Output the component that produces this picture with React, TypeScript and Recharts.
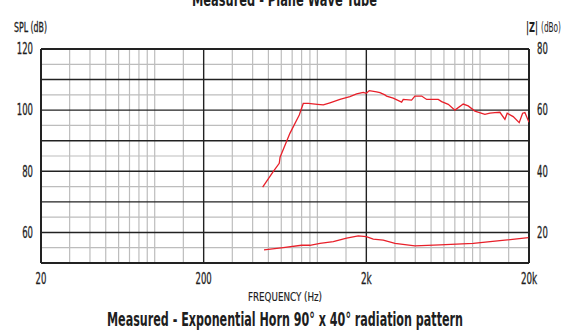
import { LineChart, Line, XAxis, YAxis, ReferenceLine } from 'recharts';

const FONT = "'DejaVu Sans Condensed', 'Liberation Sans Narrow', 'Roboto', sans-serif";
const RED = '#e8202a';
const INK = '#1e1e1e';

// SPL curve (left axis, dB)
const splFreqs = [
  461, 535, 583, 590, 678, 774, 819, 880, 1000, 1088, 1195, 1377, 1585, 1743, 1915, 2000,
  2085, 2313, 2425, 2601, 2664, 2925, 3296, 3373, 3794, 3978, 4377, 4697, 5535, 5808, 6378,
  7009, 7882, 8455, 9302, 10710, 11500, 12340, 13250, 14220, 14690, 15990, 17410, 18270,
  18870, 20000,
];
const splLevels = [
  74.8, 79.9, 82.6, 84.6, 92.4, 98.4, 102.2, 102.2, 101.9, 101.7, 102.4, 103.5, 104.4, 105.3,
  105.8, 105.5, 106.4, 106.0, 105.7, 105.0, 104.6, 103.9, 102.6, 103.5, 103.3, 104.6, 104.6,
  103.5, 103.5, 102.8, 101.9, 100.0, 102.0, 101.4, 99.7, 98.6, 99.0, 99.2, 99.3, 97.0, 99.0,
  97.9, 95.9, 99.0, 99.2, 96.0,
];

// impedance curve (right axis, dBo)
const impFreqs = [470, 617, 800, 900, 1038, 1253, 1513, 1784, 2000, 2206, 2541, 3000, 3978, 5668, 9080, 13250, 19800];
const impLevels = [14.3, 15.0, 15.8, 15.8, 16.4, 17.0, 18.1, 18.9, 18.6, 17.8, 17.5, 16.4, 15.6, 15.9, 16.4, 17.3, 18.3];

const freqTicks = [20, 200, 2000, 20000];
const freqLabels = ['20', '200', '2k', '20k'];
const splTicks = [60, 80, 100, 120];
const impTicks = [20, 40, 60, 80];

const minorFreqs = [
  30, 40, 50, 60, 70, 80, 90, 100, 150,
  300, 400, 500, 600, 700, 800, 900, 1000, 1500,
  3000, 4000, 5000, 6000, 7000, 8000, 9000, 10000, 15000,
];
const majorLevels = [60, 70, 80, 90, 100, 110];
const minorLevels = [55, 65, 75, 85, 95, 105, 115];

const splData = splFreqs.map((f, i) => ({ f, spl: splLevels[i] }));
const impData = impFreqs.map((f, i) => ({ f, z: impLevels[i] }));

// narrow tick text: squeeze each label to ~5.4px per character
function NarrowTick(props: any) {
  const { x, y, payload, textAnchor, verticalAnchor, fmt } = props;
  const label = fmt ? fmt(payload.value) : String(payload.value);
  const dy = verticalAnchor === 'start' ? '0.71em' : '0.355em';
  return (
    <text
      x={x}
      y={y}
      dy={dy}
      textAnchor={textAnchor}
      fontSize={15}
      fontFamily={FONT}
      fill={INK}
      stroke={INK}
      strokeWidth={0.3}
      textLength={label.length * 5.4}
      lengthAdjust="spacingAndGlyphs"
    >
      {label}
    </text>
  );
}

const fmtFreq = (v: number) => freqLabels[freqTicks.indexOf(v)];

export default function App() {
  return (
    <div style={{ position: 'absolute', left: 0, top: 0, width: 562, height: 332, background: '#fff' }}>
      <LineChart width={562} height={332} margin={{ top: 49, right: 0, bottom: 39, left: 0 }}>
        <XAxis
          dataKey="f"
          type="number"
          scale="log"
          domain={[20, 20000]}
          ticks={freqTicks}
          allowDataOverflow
          axisLine={false}
          tickLine={false}
          tickMargin={4}
          tick={<NarrowTick fmt={fmtFreq} />}
          height={30}
        />
        <YAxis
          yAxisId="spl"
          domain={[50, 120]}
          ticks={splTicks}
          allowDataOverflow
          axisLine={false}
          tickLine={false}
          tick={<NarrowTick />}
          width={41}
        />
        <YAxis
          yAxisId="z"
          orientation="right"
          domain={[10, 80]}
          ticks={impTicks}
          allowDataOverflow
          axisLine={false}
          tickLine={false}
          tick={<NarrowTick />}
          width={33}
        />

        {minorFreqs.map((f) => (
          <ReferenceLine key={'vx' + f} x={f} yAxisId="spl" stroke="#bdbdbd" strokeWidth={1.2} />
        ))}
        {minorLevels.map((v) => (
          <ReferenceLine key={'hm' + v} y={v} yAxisId="spl" stroke="#bdbdbd" strokeWidth={1.2} />
        ))}
        {majorLevels.map((v) => (
          <ReferenceLine key={'hM' + v} y={v} yAxisId="spl" stroke="#222" strokeWidth={1.4} />
        ))}
        <ReferenceLine x={200} yAxisId="spl" stroke="#222" strokeWidth={1.4} />
        <ReferenceLine x={2000} yAxisId="spl" stroke="#222" strokeWidth={1.4} />
        <ReferenceLine x={20} yAxisId="spl" stroke="#222" strokeWidth={2} />
        <ReferenceLine x={20000} yAxisId="spl" stroke="#222" strokeWidth={2} />
        <ReferenceLine y={50} yAxisId="spl" stroke="#222" strokeWidth={2} />
        <ReferenceLine y={120} yAxisId="spl" stroke="#222" strokeWidth={2} />

        <Line
          data={splData}
          dataKey="spl"
          yAxisId="spl"
          type="linear"
          stroke={RED}
          strokeWidth={1.3}
          dot={false}
          isAnimationActive={false}
        />
        <Line
          data={impData}
          dataKey="z"
          yAxisId="z"
          type="linear"
          stroke={RED}
          strokeWidth={1.3}
          dot={false}
          isAnimationActive={false}
        />
      </LineChart>

      <svg
        width={562}
        height={332}
        style={{ position: 'absolute', left: 0, top: 0, pointerEvents: 'none' }}
        fontFamily={FONT}
        fill={INK}
      >
        <text x={284.5} y={6} textAnchor="middle" fontSize={17} fontWeight="bold" textLength={185} lengthAdjust="spacingAndGlyphs">
          Measured - Plane Wave Tube
        </text>
        <text x={14} y={32} fontSize={14} stroke={INK} strokeWidth={0.3} textLength={33} lengthAdjust="spacingAndGlyphs">
          SPL (dB)
        </text>
        <text x={526} y={32} fontSize={14} fontWeight="bold" textLength={12} lengthAdjust="spacingAndGlyphs">
          |Z|
        </text>
        <text x={541} y={32} fontSize={14} textLength={20} lengthAdjust="spacingAndGlyphs">
          (dBo)
        </text>
        <text x={285} y={301} textAnchor="middle" fontSize={13} stroke={INK} strokeWidth={0.2} textLength={74} lengthAdjust="spacingAndGlyphs">
          FREQUENCY (Hz)
        </text>
        <text x={285} y={326} textAnchor="middle" fontSize={20} fontWeight="bold" textLength={356} lengthAdjust="spacingAndGlyphs">
          Measured - Exponential Horn 90° x 40° radiation pattern
        </text>
      </svg>
    </div>
  );
}
